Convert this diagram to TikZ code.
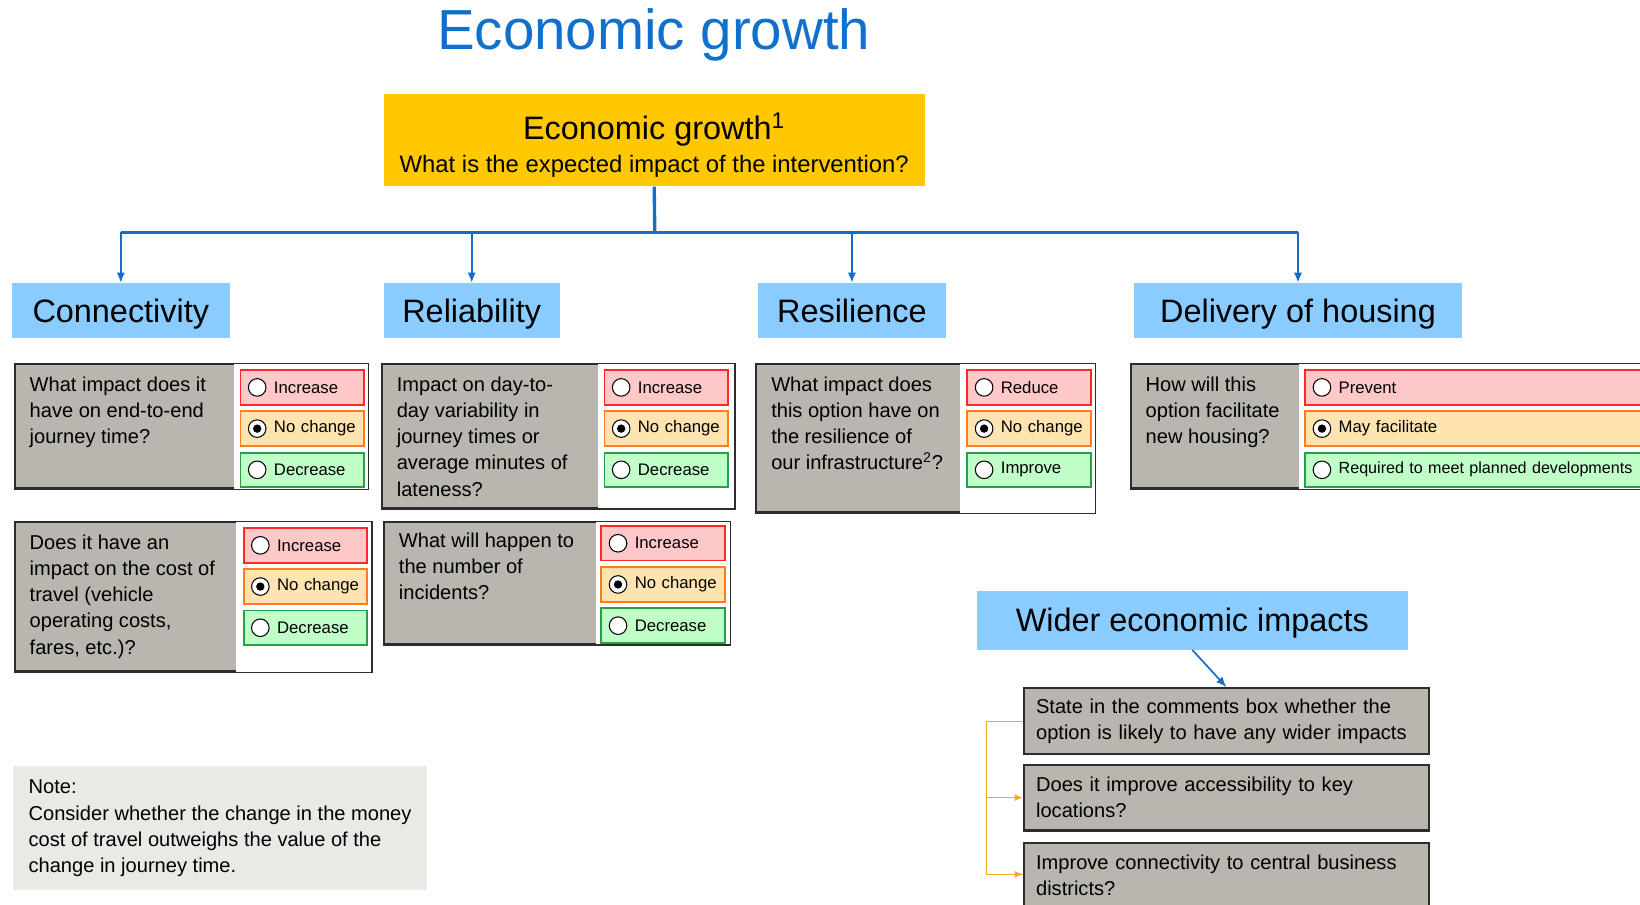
\documentclass[tikz,border=0pt]{standalone}
\usepackage{fontspec}
\setmainfont{Liberation Sans}
\usetikzlibrary{positioning,arrows.meta}
\definecolor{titleblue}{RGB}{16,112,204}
\definecolor{linkblue}{RGB}{24,108,200}
\definecolor{hdrblue}{RGB}{138,204,255}
\definecolor{topyellow}{RGB}{255,200,0}
\definecolor{qgrey}{RGB}{185,182,175}
\definecolor{notegrey}{RGB}{234,233,230}
\definecolor{edgegrey}{RGB}{45,45,45}
\definecolor{redfill}{RGB}{255,200,200}
\definecolor{redline}{RGB}{250,40,40}
\definecolor{yelfill}{RGB}{255,228,178}
\definecolor{yelline}{RGB}{255,125,30}
\definecolor{grnfill}{RGB}{192,255,200}
\definecolor{grnline}{RGB}{40,160,70}
\definecolor{linkorange}{RGB}{255,165,40}

\begin{document}
\begin{tikzpicture}[x=0.5pt,y=-0.5pt,
    hdr/.style={fill=hdrblue, minimum height=26pt, inner sep=0pt, text height=13pt, text depth=2pt,
      font=\fontsize{15.5}{18}\selectfont},
    panel/.style={draw=edgegrey, line width=1.1pt, fill=qgrey, anchor=north west, inner sep=0pt},
    qtext/.style={anchor=north west, align=left, inner xsep=7.5pt, inner ysep=6.5pt, font=\fontsize{9.6}{12.5}\selectfont},
    opt/.style={draw, line width=0.9pt, anchor=north west, minimum height=16.5pt, text width=#1,
      inner xsep=0pt, inner ysep=0pt, align=left, font=\fontsize{8}{9.5}\selectfont,
      execute at begin node={\hspace*{16pt}},
      path picture={\draw[draw=black, fill=white, line width=0.5pt] ([xshift=8pt]path picture bounding box.west) circle (4.2pt);}},
    opt/.default=59pt,
    sel/.style={path picture={\draw[draw=black, fill=white, line width=0.5pt] ([xshift=8pt]path picture bounding box.west) circle (4.2pt);
      \fill[black] ([xshift=8pt]path picture bounding box.west) circle (2pt);}},
    opred/.style={fill=redfill, draw=redline},
    opyel/.style={fill=yelfill, draw=yelline},
    opgrn/.style={fill=grnfill, draw=grnline},
    wbox/.style={draw=edgegrey, line width=1.1pt, fill=qgrey, anchor=north west, minimum height=31.5pt,
      text width=182pt, inner xsep=5.75pt, align=left, font=\fontsize{9.6}{12.5}\selectfont},
    trunk/.style={draw=linkblue, line width=1.6pt},
    drop/.style={draw=linkblue, line width=1pt, -{Latex[length=5pt,width=4pt]}},
    olink/.style={draw=linkorange, line width=0.7pt},
  ]
  \useasboundingbox (0,0) rectangle (1568,865);
  \clip (0,0) rectangle (1568,865);

  % title and top box
  \node[text=titleblue, font=\fontsize{27}{30}\selectfont] (title) at (625,33) {Economic growth};
  \node[fill=topyellow, minimum width=258.5pt, minimum height=44pt] (eg) at (625.5,134) {};
  \node[align=center, font=\fontsize{11.4}{14}\selectfont] (egtxt) at (625.5,139)
    {{\fontsize{15.5}{18}\selectfont Economic growth\textsuperscript{1}}\\[2pt]What is the expected impact of the intervention?};

  % headings
  \node[hdr, minimum width=104.5pt] (con) at (115.5,297) {Connectivity};
  \node[hdr, minimum width=84pt] (rel) at (451,297) {Reliability};
  \node[hdr, minimum width=89.5pt] (res) at (814.5,297) {Resilience};
  \node[hdr, minimum width=157pt] (hou) at (1241,297) {Delivery of housing};

  \coordinate (split) at (626,222);
  \draw[trunk] (eg.south) -- (split);
  \draw[trunk] (split -| con.north) -- (split -| hou.north);
  \foreach \h in {con,rel,res,hou}
    \draw[drop] (split -| \h.north) -- (\h.north);

  % question panels
  \node[panel, minimum width=169pt, minimum height=59.5pt] (con1) at (13,347) {};
  \node[panel, minimum width=170.5pt, minimum height=71.5pt] (con2) at (13,498) {};
  \node[panel, minimum width=168.5pt, minimum height=69pt] (rel1) at (364,347) {};
  \node[panel, minimum width=165.5pt, minimum height=58.5pt] (rel2) at (366,498) {};
  \node[panel, minimum width=162pt, minimum height=71pt] (res1) at (722,347) {};
  \node[panel, minimum width=290pt, minimum height=59.5pt] (hou1) at (1080,347) {};
  \foreach \p/\g in {con1/105.5pt,con2/106.5pt,rel1/104pt,rel2/102pt,res1/98pt,hou1/81pt}
    \fill[white] ([shift={(\g,-0.55pt)}]\p.north west) rectangle ([shift={(-0.55pt,0.55pt)}]\p.south east);

  \node[qtext] at (con1.north west) {What impact does it\\have on end-to-end\\journey time?};
  \node[qtext] at (con2.north west) {Does it have an\\impact on the cost of\\travel (vehicle\\operating costs,\\fares, etc.)?};
  \node[qtext] at (rel1.north west) {Impact on day-to-\\day variability in\\journey times or\\average minutes of\\lateness?};
  \node[qtext, inner ysep=5.5pt] at (rel2.north west) {What will happen to\\the number of\\incidents?};
  \node[qtext] at (res1.north west) {What impact does\\this option have on\\the resilience of\\our infrastructure\textsuperscript{2}?};
  \node[qtext] at (hou1.north west) {How will this\\option facilitate\\new housing?};

  % answer options
  \node[opt, opred] (con1a) at (229,353) {Increase};
  \node[opt, opyel, sel, below=2.3pt of con1a] (con1b) {No change};
  \node[opt, opgrn, below=2.3pt of con1b] (con1c) {Decrease};

  \node[opt, opred] (con2a) at (232,504) {Increase};
  \node[opt, opyel, sel, below=2.3pt of con2a] (con2b) {No change};
  \node[opt, opgrn, below=2.3pt of con2b] (con2c) {Decrease};

  \node[opt, opred] (rel1a) at (577,353) {Increase};
  \node[opt, opyel, sel, below=2.3pt of rel1a] (rel1b) {No change};
  \node[opt, opgrn, below=2.3pt of rel1b] (rel1c) {Decrease};

  \node[opt, opred] (rel2a) at (574,502) {Increase};
  \node[opt, opyel, sel, below=2.3pt of rel2a] (rel2b) {No change};
  \node[opt, opgrn, below=2.3pt of rel2b] (rel2c) {Decrease};

  \node[opt, opred] (res1a) at (924,353) {Reduce};
  \node[opt, opyel, sel, below=2.3pt of res1a] (res1b) {No change};
  \node[opt, opgrn, below=2.3pt of res1b] (res1c) {Improve};

  \node[opt=210pt, opred] (hou1a) at (1247,353) {Prevent};
  \node[opt=210pt, opyel, sel, below=2.3pt of hou1a] (hou1b) {May facilitate};
  \node[opt=210pt, opgrn, below=2.3pt of hou1b, font=\fontsize{7.7}{9.5}\selectfont] (hou1c) {Required to meet planned developments};

  % note
  \node[fill=notegrey, anchor=north west, minimum width=198pt, minimum height=59.5pt, align=left,
    font=\fontsize{9.6}{12.5}\selectfont] (note) at (12,732)
    {Note:\\Consider whether the change in the money\\cost of travel outweighs the value of the\\change in journey time.};

  % wider economic impacts
  \node[hdr, minimum width=206pt, minimum height=28pt] (wid) at (1140,593) {Wider economic impacts};
  \node[wbox] (wb1) at (978,657) {State in the comments box whether the\\option is likely to have any wider impacts};
  \node[wbox] (wb2) at (978,730) {Does it improve accessibility to key\\locations?};
  \node[wbox, inner ysep=5.5pt, text depth=30pt] (wb3) at (978,805) {Improve connectivity to central business\\districts?};

  \draw[drop, line width=0.8pt] (wid.south) -- (wb1.north);
  \draw[olink] (wb1.west) -- ++(-17.5pt,0) coordinate (obend) |- ([yshift=-15.5pt]wb3.north west);
  \draw[olink, -{Latex[length=4pt,width=3.5pt]}] (obend |- wb2.west) -- (wb2.west);
  \draw[olink, -{Latex[length=4pt,width=3.5pt]}] (obend |- 0,836) -- ([yshift=-15.5pt]wb3.north west);
\end{tikzpicture}
\end{document}
